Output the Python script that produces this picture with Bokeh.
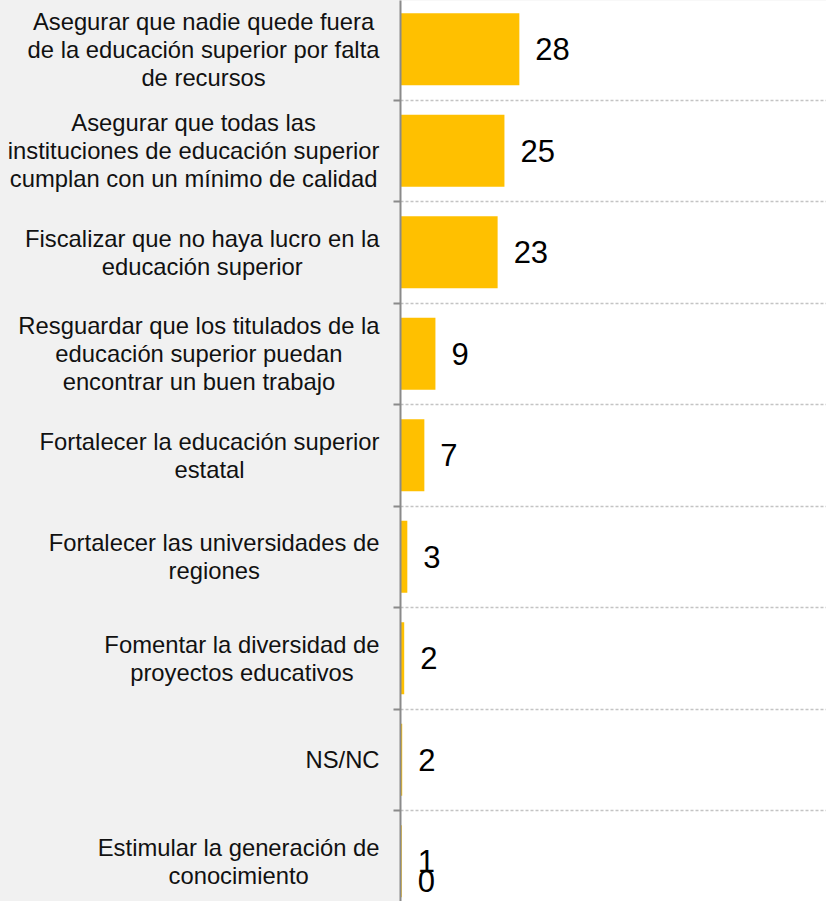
from bokeh.plotting import figure
from bokeh.layouts import row
from bokeh.models import Range1d, FixedTicker, ColumnDataSource
from bokeh.core.properties import value
from bokeh.embed import file_html
from bokeh.resources import INLINE

# ---- data ----
categories = [
    "Asegurar que nadie quede fuera\nde la educación superior por falta\nde recursos",
    "Asegurar que todas las\ninstituciones de educación superior\ncumplan con un mínimo de calidad",
    "Fiscalizar que no haya lucro en la\neducación superior",
    "Resguardar que los titulados de la\neducación superior puedan\nencontrar un buen trabajo",
    "Fortalecer la educación superior\nestatal",
    "Fortalecer las universidades de\nregiones",
    "Fomentar la diversidad de\nproyectos educativos",
    "NS/NC",
    "Estimular la generación de\nconocimiento",
]
bar_values = [27.9, 24.4, 22.8, 8.2, 5.6, 1.6, 0.87, 0.4, 0.3]   # bar lengths (axis 0-100)
label_values = [28, 25, 23, 9, 7, 3, 2, 2, 1]                     # printed data labels
extra_label_values = [None, None, None, None, None, None, None, None, 0]  # second label shown

FONT = "Liberation Sans"
BAR = "#FFC000"
PANEL = "#F1F1F1"

n = len(categories)
idx = list(range(n))
band_px = 101.5
top_px_offset = 48.75            # frame top to first band centre
frame_h = 901
y_top = -top_px_offset / band_px
y_bottom = y_top + frame_h / band_px
yr = Range1d(y_bottom, y_top)

LEFT_W = 385
# ---- left label panel ----
lp = figure(width=LEFT_W, height=frame_h, x_range=Range1d(0, LEFT_W), y_range=yr,
            output_backend="svg", toolbar_location=None, x_axis_location=None, y_axis_location=None,
            min_border_left=0, min_border_right=0, min_border_top=0, min_border_bottom=0)
lp.background_fill_color = PANEL
lp.border_fill_color = PANEL
lp.outline_line_color = None
lp.grid.visible = False
lsrc = ColumnDataSource(dict(x=[LEFT_W] * n, y=idx, t=categories))
lp.text(x="x", y="y", text="t", source=lsrc, x_offset=-6, anchor="center_right",
        text_align="center", text_baseline="middle", text_font=value(FONT),
        text_font_size="23.8px", text_color="#111111", text_line_height=1.03)

# ---- main bar chart ----
p = figure(width=826 - LEFT_W, height=frame_h, x_range=Range1d(0, 100), y_range=yr,
           output_backend="svg", toolbar_location=None, x_axis_location=None,
           min_border_left=15, min_border_right=0, min_border_top=0, min_border_bottom=0)
p.background_fill_color = "white"
p.border_fill_color = PANEL
p.outline_line_color = None

bounds = [i - 0.5 for i in range(n + 1)]
ax = p.yaxis[0]
ax.ticker = FixedTicker(ticks=bounds)
ax.major_label_overrides = {b: "" for b in bounds}
ax.axis_line_color = "#8a8a8a"
ax.axis_line_width = 2
ax.major_tick_line_color = "#8a8a8a"
ax.major_tick_line_width = 2
ax.major_tick_out = 7
ax.major_tick_in = 0
ax.minor_tick_line_color = None

p.xgrid.visible = False
p.ygrid.ticker = FixedTicker(ticks=bounds)
p.ygrid.grid_line_color = "#c4c4c4"
p.ygrid.grid_line_dash = "3 2"
p.ygrid.grid_line_width = 1.5

src = ColumnDataSource(dict(y=idx, v=bar_values, lab=[str(v) for v in label_values]))
p.hbar(y="y", left=0, right="v", height=0.709, source=src, fill_color=BAR, line_color=None)

p.text(x="v", y="y", text="lab", source=src, x_offset=16, text_align="left",
       text_baseline="middle", text_font=value(FONT), text_font_size="31px", text_color="black")

ex_x = [bar_values[i] for i, e in enumerate(extra_label_values) if e is not None]
ex_y = [i for i, e in enumerate(extra_label_values) if e is not None]
ex_t = [str(e) for e in extra_label_values if e is not None]
p.text(x=ex_x, y=ex_y, text=ex_t, x_offset=16, y_offset=20, text_align="left",
       text_baseline="middle", text_font=value(FONT), text_font_size="31px", text_color="black")

layout = row(lp, p, spacing=0, styles={"background-color": PANEL})
open("out.html", "w").write(file_html(layout, INLINE))
